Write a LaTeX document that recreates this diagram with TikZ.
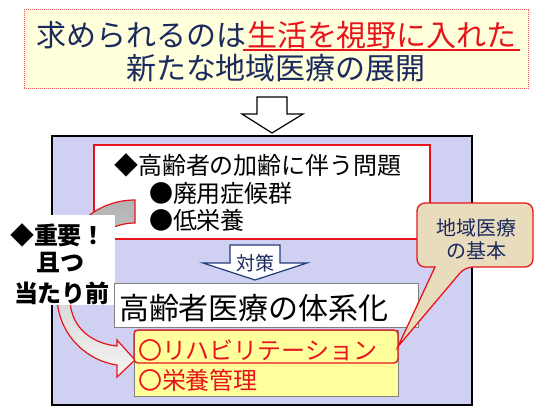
\documentclass[tikz,border=0pt]{standalone}
\usepackage{fontspec}
\setmainfont{Noto Sans CJK JP}
\definecolor{navy}{HTML}{1B2A5E}
\definecolor{tred}{HTML}{E8141B}
\definecolor{lav}{HTML}{D0D1F2}
\definecolor{ttl}{HTML}{FFFFDC}
\definecolor{yel}{HTML}{FFFF9C}
\definecolor{parch}{HTML}{E9DCBC}
\definecolor{arrnavy}{HTML}{1F3B7A}
\newcommand{\fs}[1]{\fontsize{#1}{#1}\selectfont}
\begin{document}
\begin{tikzpicture}[x=1pt,y=-1pt,
  every node/.style={inner sep=0pt,outer sep=0pt},
  titletext/.style={text=navy,font=\fs{30}},
  bodytext/.style={text=black,font=\fs{24}},
  redtext/.style={text=tred,font=\fs{24}},
  boxline/.style={draw=black!50,line width=0.8pt}]
\useasboundingbox (0,0) rectangle (550,413);
% title banner
\node[draw=tred!70,dash pattern=on 1pt off 1pt,line width=0.8pt,fill=ttl,
      minimum width=504pt,minimum height=79pt] (banner) at (276,49) {};
\node[titletext,anchor=base west] (t1a) at (37,46) {求められるのは};
\node[titletext,text=tred,anchor=base west] (t1b) at (t1a.base east) {生活を視野に入れた};
\draw[tred,line width=1.5pt] ([shift={(-4,4)}]t1b.base west) -- ([shift={(3,4)}]t1b.base east);
\node[titletext,anchor=base] (t2) at (276,79) {新たな地域医療の展開};
% big down arrow
\draw[black,line width=1.2pt,fill=white,line join=miter]
  (257,97) -- (287,97) -- (287,114) -- (303,114) -- (272,133) -- (242,114) -- (257,114) -- cycle;
% big lavender box
\node[draw=black,line width=1.6pt,fill=lav,minimum width=420pt,minimum height=269pt] (big) at (262,270.5) {};
% red problem box
\node[draw=tred,line width=1.5pt,fill=white,minimum width=336pt,minimum height=94pt] (prob) at (262,192) {};
\node[bodytext,anchor=base west] (p1) at (114,174) {◆高齢者の加齢に伴う問題};
\node[bodytext,anchor=base west] (p2) at (149,202) {●廃用症候群};
\node[bodytext,anchor=base west] (p3) at (149,229) {●低栄養};
% curved arrow
\path[draw=tred,line width=1.2pt,top color=black!30,bottom color=black!4,line join=miter]
  (135,200) .. controls (95,200) and (55,230) .. (57,300)
  .. controls (60,337) and (88,361) .. (117,365) -- (117,377) -- (135,360) -- (117,340) -- (117,346)
  .. controls (95,344) and (71,330) .. (70,300)
  .. controls (69,255) and (100,223) .. (135,223) -- cycle;
% label
\node[fill=white,minimum width=112pt,minimum height=90pt] (lblbox) at (59,260) {};
\node[font=\fs{24}\bfseries,anchor=base] (l1) at (58,244) {◆重要！};
\node[font=\fs{24}\bfseries,anchor=base] (l2) at (61,271) {且つ};
\node[font=\fs{24}\bfseries,anchor=base] (l3) at (62,302) {当たり前};
% small arrow
\draw[arrnavy,line width=1.2pt,fill=white,line join=miter]
  (230,245) -- (280,245) -- (280,263) -- (307,263) -- (255,280) -- (203,263) -- (230,263) -- cycle;
\node[font=\fs{19},text=navy,anchor=base] (taisaku) at (255,270) {対策};
% system box
\node[boxline,fill=white,minimum width=304pt,minimum height=44pt] (sys) at (266,305) {};
\node[font=\fs{30},anchor=base west] (systext) at (119,319) {高齢者医療の体系化};
% yellow box
\node[boxline,fill=yel,minimum width=264pt,minimum height=66pt] (yel) at (266,363) {};
\node[draw=tred,line width=1.3pt,rounded corners=4pt,minimum width=264pt,minimum height=33pt] (rehab) at (266,346.5) {};
\node[redtext,anchor=base west] (r1) at (138,359) {〇リハビリテーション};
\node[redtext,anchor=base west] (r2) at (138,389) {〇栄養管理};
% callout
\coordinate (tip) at (rehab.east);
\draw[tred,line width=1.3pt,fill=parch,rounded corners=8pt]
  (417,235) -- (417,203) -- (533,203) -- (533,267) -- (465,267) [sharp corners] -- (tip) -- (435,267) [rounded corners=8pt] -- (417,267) -- cycle;
\node[font=\fs{20},text=navy,anchor=base] (c1) at (476,235) {地域医療};
\node[font=\fs{20},text=navy,anchor=base] (c2) at (476,258) {の基本};
\end{tikzpicture}
\end{document}
